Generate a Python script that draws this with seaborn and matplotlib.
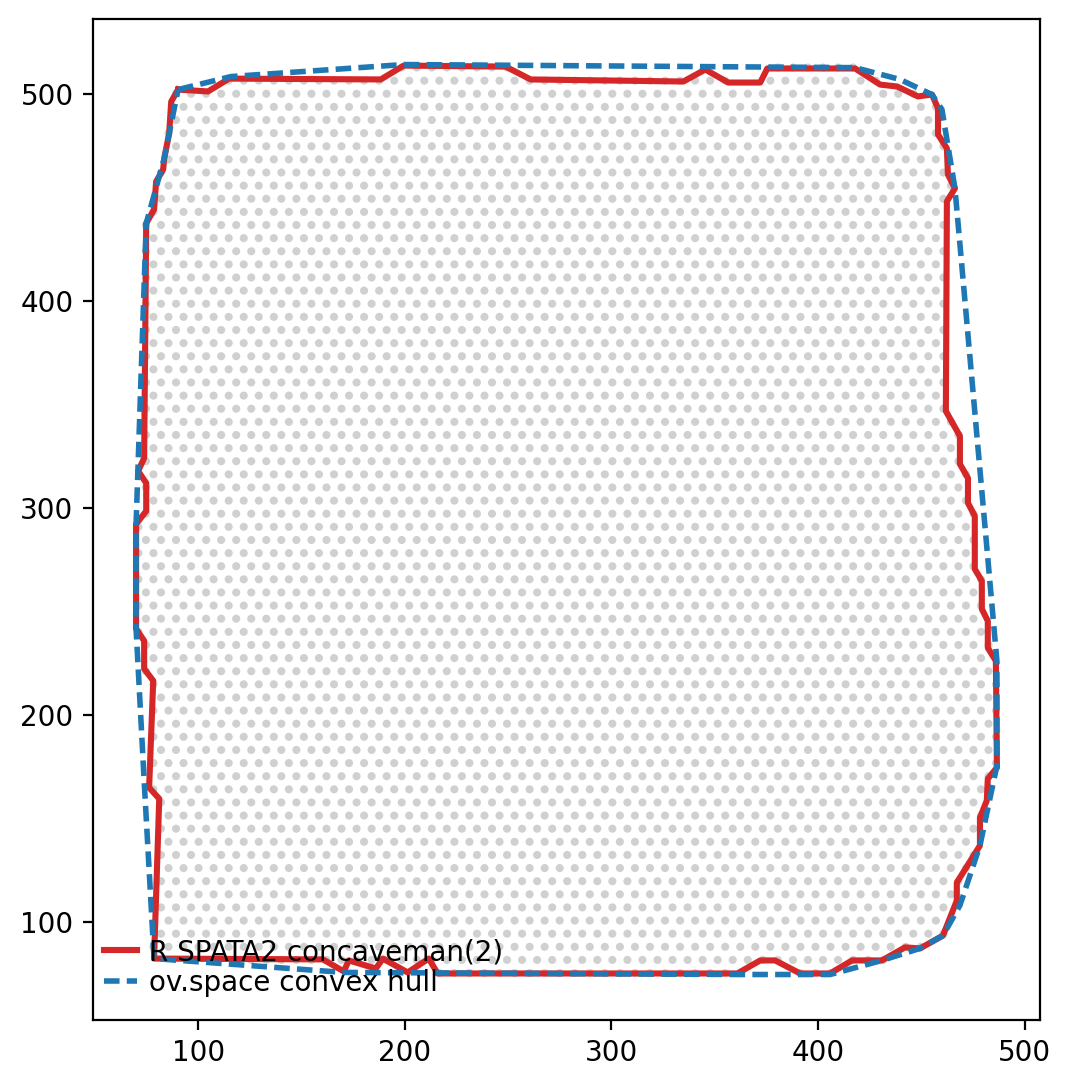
import numpy as np
import pandas as pd
import matplotlib
matplotlib.use('Agg')
import matplotlib.pyplot as plt
from matplotlib.path import Path
import seaborn as sns

# ── boundary traced by R SPATA2 concaveman(2) ──
concave_x = [90.3, 104.8, 115.0, 188.4, 199.5, 248.8, 260.9, 334.8, 345.4, 356.5,
             372.0, 375.4, 417.9, 430.0, 438.2, 448.3, 455.1, 458.0, 458.0, 462.3,
             462.8, 466.2, 462.3, 461.8, 468.6, 468.6, 472.5, 472.5, 475.8, 475.8,
             479.2, 479.2, 482.1, 482.1, 486.0, 486.5, 482.1, 481.6, 478.3, 478.3,
             467.1, 467.1, 460.4, 449.3, 442.0, 430.9, 416.4, 405.8, 391.3, 379.2,
             372.0, 360.9, 215.9, 211.6, 201.4, 189.4, 186.0, 172.9, 170.5, 160.4,
             78.7, 81.2, 76.3, 78.3, 73.9, 73.9, 70.0, 70.0, 74.9, 74.9,
             71.0, 73.9, 74.9, 78.7, 79.7, 83.1, 83.6, 86.0, 87.0, 90.3]
concave_y = [501.9, 501.0, 507.2, 506.8, 513.5, 513.0, 506.8, 505.8, 511.6, 505.3,
             505.3, 512.1, 512.1, 504.3, 503.4, 498.6, 499.5, 492.8, 480.2, 473.5,
             460.9, 454.2, 447.9, 346.6, 334.5, 321.0, 314.2, 302.2, 295.9, 270.3,
             264.5, 251.0, 245.2, 232.2, 225.9, 174.3, 169.0, 158.4, 150.2, 136.7,
             118.8, 110.1, 93.2, 87.0, 87.5, 81.2, 81.2, 74.9, 74.9, 81.2,
             81.2, 74.9, 74.9, 82.1, 75.4, 82.1, 77.3, 81.2, 75.9, 81.7,
             82.1, 159.3, 164.7, 216.3, 222.1, 235.6, 241.4, 292.0, 298.3, 311.8,
             317.6, 323.9, 437.3, 444.0, 457.5, 463.3, 468.6, 480.7, 496.1, 501.9]

# ── boundary from ov.space convex hull ──
hull_x = [90.3, 115.9, 199.5, 417.9, 439.6, 455.1, 459.9, 466.2, 486.5, 486.5,
          478.3, 468.6, 460.4, 449.3, 430.9, 405.8, 360.9, 170.5, 78.7, 73.9,
          70.0, 70.0, 74.9, 83.6, 90.3]
hull_y = [501.9, 508.2, 514.0, 512.5, 506.8, 499.5, 492.3, 454.2, 225.9, 175.3,
          136.7, 107.8, 93.2, 87.0, 81.2, 74.4, 74.4, 75.4, 82.1, 168.0,
          241.4, 292.0, 437.3, 468.6, 501.9]

# spot lattice (hexagonal)
spot_x0, spot_y0 = 205.8, 297.0
spot_dx = 7.28
spot_dy = 6.34

labels = ['R SPATA2 concaveman(2)', 'ov.space convex hull']

# build spots inside the tissue outline
rows = np.arange(-40, 40)
cols = np.arange(-30, 60)
pts = []
for j in rows:
    off = 0.0 if j % 2 == 0 else -spot_dx / 2
    for k in cols:
        pts.append((spot_x0 + k * spot_dx + off, spot_y0 + j * spot_dy))
pts = np.array(pts)
outline = Path(np.column_stack([concave_x, concave_y]))
inside = outline.contains_points(pts, radius=1.0) | outline.contains_points(pts, radius=-1.0)
spots = pd.DataFrame(pts[inside], columns=['x', 'y'])

fig = plt.figure(figsize=(5.36, 5.44), dpi=200)
ax = fig.add_axes([0.0868, 0.0625, 0.8833, 0.92])

sns.scatterplot(data=spots, x='x', y='y', s=8.5, color='#d0d0d0',
                edgecolor='none', linewidth=0, ax=ax, zorder=1)
sns.lineplot(x=concave_x, y=concave_y, sort=False, estimator=None,
             color='#d62728', lw=2.2, ax=ax, label=labels[0], zorder=2)
sns.lineplot(x=hull_x, y=hull_y, sort=False, estimator=None,
             color='#1f77b4', lw=2.0, ax=ax, label=labels[1], zorder=3,
             dashes=False)
ax.lines[-1].set_dashes((2.8, 1.3))

ax.set_aspect('equal', adjustable='datalim')
ax.set_xlabel('')
ax.set_ylabel('')
ax.set_xticks([100, 200, 300, 400, 500])
ax.set_yticks([100, 200, 300, 400, 500])

ax.legend(loc='lower left', bbox_to_anchor=(0.0, 0.012), frameon=False,
          fontsize=10, handlelength=1.2, handletextpad=0.4,
          labelspacing=0.1, borderaxespad=0.0)

fig.savefig('out.png', dpi=200)
